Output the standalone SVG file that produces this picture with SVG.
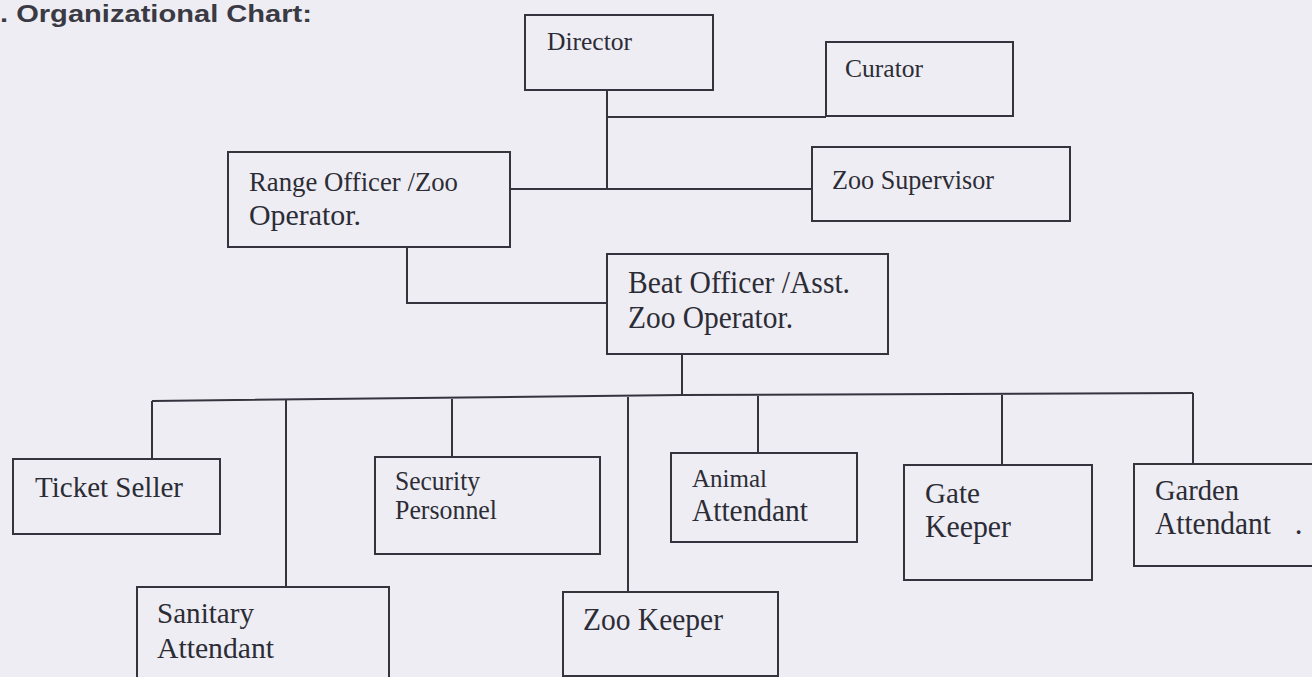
<svg xmlns="http://www.w3.org/2000/svg" width="1312" height="677" viewBox="0 0 1312 677">
<style>
.bg{fill:#eeedf3}
.box{fill:none;stroke:#34343f;stroke-width:2}
.ln{fill:none;stroke:#34343f;stroke-width:2}
.t{font-family:"Liberation Serif","Times New Roman",serif;fill:#2c2c36}
.title{font-family:"Liberation Sans",Arial,sans-serif;font-weight:bold;fill:#3a3a44}
</style>
<rect class="bg" x="0" y="0" width="1312" height="677"/>
<text class="title" x="0" y="22" font-size="24" textLength="312" lengthAdjust="spacingAndGlyphs">. Organizational Chart:</text>
<g id="connectors">
<polyline class="ln" points="607,90 607,189"/>
<polyline class="ln" points="607,117 826,117"/>
<polyline class="ln" points="510,189 812,189"/>
<polyline class="ln" points="407,247 407,303 607,303"/>
<polyline class="ln" points="682,354 682,395"/>
<polyline class="ln" points="152,401 682,395 1193,393"/>
<polyline class="ln" points="152,401 152,459"/>
<polyline class="ln" points="286,400 286,587"/>
<polyline class="ln" points="452,399 452,457"/>
<polyline class="ln" points="628,397 628,592"/>
<polyline class="ln" points="758,396 758,453"/>
<polyline class="ln" points="1002,395 1002,465"/>
<polyline class="ln" points="1193,393 1193,464"/>
</g>
<g id="director"><rect class="box" x="525" y="15" width="188" height="75"/><text class="t" x="547" y="50" font-size="26" textLength="85" lengthAdjust="spacingAndGlyphs">Director</text></g>
<g id="curator"><rect class="box" x="826" y="42" width="187" height="74"/><text class="t" x="845" y="77" font-size="26" textLength="78" lengthAdjust="spacingAndGlyphs">Curator</text></g>
<g id="zoo-supervisor"><rect class="box" x="812" y="147" width="258" height="74"/><text class="t" x="832" y="189" font-size="28" textLength="162" lengthAdjust="spacingAndGlyphs">Zoo Supervisor</text></g>
<g id="range-officer"><rect class="box" x="228" y="152" width="282" height="95"/><text class="t" x="249" y="191" font-size="28" textLength="209" lengthAdjust="spacingAndGlyphs">Range Officer /Zoo</text><text class="t" x="249" y="225" font-size="30" textLength="112" lengthAdjust="spacingAndGlyphs">Operator.</text></g>
<g id="beat-officer"><rect class="box" x="607" y="254" width="281" height="100"/><text class="t" x="628" y="293" font-size="31" textLength="222" lengthAdjust="spacingAndGlyphs">Beat Officer /Asst.</text><text class="t" x="628" y="328" font-size="31" textLength="165" lengthAdjust="spacingAndGlyphs">Zoo Operator.</text></g>
<g id="ticket-seller"><rect class="box" x="13" y="459" width="207" height="75"/><text class="t" x="35" y="497" font-size="30" textLength="148" lengthAdjust="spacingAndGlyphs">Ticket Seller</text></g>
<g id="sanitary-attendant"><rect class="box" x="137" y="587" width="252" height="110"/><text class="t" x="157" y="623" font-size="30" textLength="97" lengthAdjust="spacingAndGlyphs">Sanitary</text><text class="t" x="157" y="658" font-size="30" textLength="117" lengthAdjust="spacingAndGlyphs">Attendant</text></g>
<g id="security-personnel"><rect class="box" x="375" y="457" width="225" height="97"/><text class="t" x="395" y="490" font-size="27" textLength="85" lengthAdjust="spacingAndGlyphs">Security</text><text class="t" x="395" y="519" font-size="27" textLength="102" lengthAdjust="spacingAndGlyphs">Personnel</text></g>
<g id="zoo-keeper"><rect class="box" x="563" y="592" width="215" height="84"/><text class="t" x="583" y="630" font-size="31" textLength="140" lengthAdjust="spacingAndGlyphs">Zoo Keeper</text></g>
<g id="animal-attendant"><rect class="box" x="671" y="453" width="186" height="89"/><text class="t" x="692" y="487" font-size="26" textLength="75" lengthAdjust="spacingAndGlyphs">Animal</text><text class="t" x="692" y="521" font-size="31" textLength="116" lengthAdjust="spacingAndGlyphs">Attendant</text></g>
<g id="gate-keeper"><rect class="box" x="904" y="465" width="188" height="115"/><text class="t" x="925" y="503" font-size="30" textLength="55" lengthAdjust="spacingAndGlyphs">Gate</text><text class="t" x="925" y="537" font-size="31" textLength="86" lengthAdjust="spacingAndGlyphs">Keeper</text></g>
<g id="garden-attendant"><rect class="box" x="1134" y="464" width="190" height="102"/><text class="t" x="1155" y="500" font-size="30" textLength="84" lengthAdjust="spacingAndGlyphs">Garden</text><text class="t" y="534" font-size="31"><tspan x="1155" textLength="116" lengthAdjust="spacingAndGlyphs">Attendant</tspan><tspan x="1287"> .</tspan></text></g>
</svg>
